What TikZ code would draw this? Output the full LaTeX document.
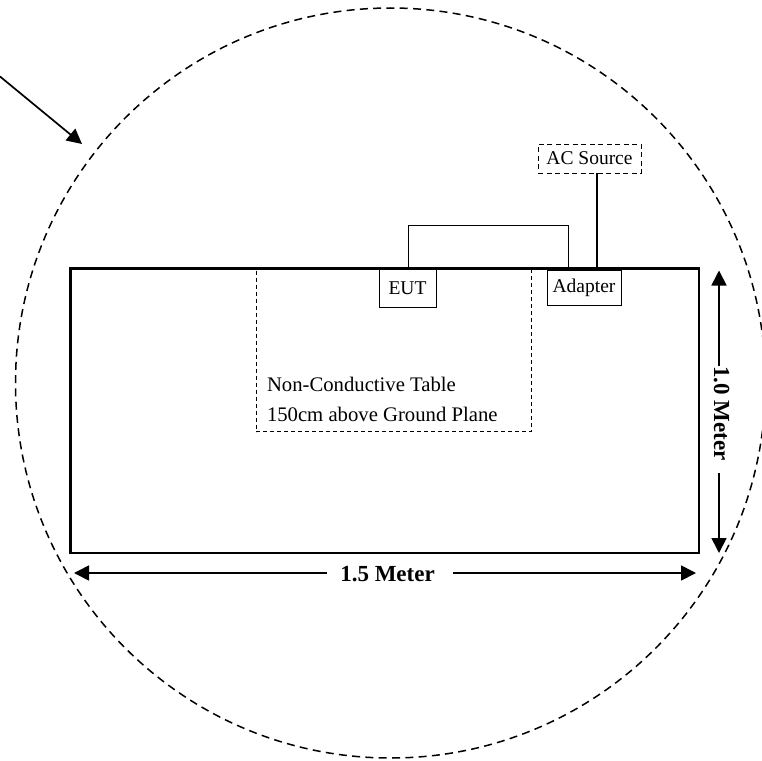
\documentclass[tikz,border=0pt]{standalone}
\usepackage{fontspec}
\setmainfont{Liberation Serif}
\usetikzlibrary{arrows.meta}
\tikzset{
  x=1pt,y=-1pt,
  every node/.style={inner sep=0pt,outer sep=0pt,text=black},
  tablebox/.style={draw,line width=2.4pt,anchor=north west,minimum width=628.5pt,minimum height=284.5pt},
  zonebox/.style={draw,dash pattern=on 4pt off 3pt,line width=0.9pt,anchor=north west},
  unitbox/.style={draw,line width=1pt,anchor=north west,font=\fontsize{19.5pt}{22pt}\selectfont},
  acbox/.style={draw,dash pattern=on 5pt off 3.5pt,line width=0.9pt,anchor=north west,font=\fontsize{19.5pt}{22pt}\selectfont},
  wire/.style={draw,line width=1pt},
  feed/.style={draw,line width=1.8pt},
  dimline/.style={draw,line width=1.7pt},
  dimarrow/.style={dimline,-{Triangle[length=15pt,width=15pt]}},
  dimlabel/.style={font=\fontsize{23pt}{26pt}\selectfont\bfseries},
  ring/.style={draw,line width=1.5pt,dash pattern=on 8pt off 5.3pt},
}
\begin{document}
\begin{tikzpicture}
\useasboundingbox (0,0) rectangle (762,760);
\begin{scope}
  \clip (0,0) rectangle (762,760);
  \node[ring,circle,minimum size=750pt] (testzone) at (390.5,383) {};
\end{scope}
\node[zonebox,minimum width=275.5pt,minimum height=162pt] (zone) at (256,269.5) {};
\node[tablebox] (table) at (70.5,268.5) {};
\node[anchor=base west,font=\fontsize{20.7pt}{24pt}\selectfont] (tableline) at (267,391.7) {Non-Conductive Table};
\node[anchor=base west,font=\fontsize{20.7pt}{24pt}\selectfont] (planeline) at (267,421.5) {150cm above Ground Plane};
\node[unitbox,minimum width=57pt,minimum height=37.5pt] (eut) at (379,269.8) {EUT};
\node[unitbox,minimum width=74pt,minimum height=35pt] (adapter) at (547,270) {Adapter};
\node[acbox,minimum width=103pt,minimum height=29pt] (ac) at (538,144) {AC Source};
\coordinate (wirestart) at (408.7,268);
\coordinate (wireleft) at (408.7,225);
\coordinate (wireright) at (568,225);
\coordinate (wireend) at (568,268);
\coordinate (feedtop) at (597,173);
\coordinate (feedend) at (597,268);
\path[wire] (wirestart) -- (wireleft) -- (wireright) -- (wireend);
\path[feed] (feedtop) -- (feedend);
\node[dimlabel] (wlabel) at (387.5,574) {1.5 Meter};
\coordinate (wleftin) at (327,573);
\coordinate (wleftend) at (74,573);
\coordinate (wrightin) at (453,573);
\coordinate (wrightend) at (696,573);
\path[dimarrow] (wleftin) -- (wleftend);
\path[dimarrow] (wrightin) -- (wrightend);
\node[dimlabel,rotate=-90] (hlabel) at (721.5,413.5) {1.0 Meter};
\coordinate (htopin) at (719,366);
\coordinate (htopend) at (719,270.5);
\coordinate (hbotin) at (719,473);
\coordinate (hbotend) at (719,553);
\path[dimarrow] (htopin) -- (htopend);
\path[dimarrow] (hbotin) -- (hbotend);
\coordinate (pointerstart) at (0,76.5);
\coordinate (pointerend) at (82,144);
\path[dimarrow] (pointerstart) -- (pointerend);
\end{tikzpicture}
\end{document}
